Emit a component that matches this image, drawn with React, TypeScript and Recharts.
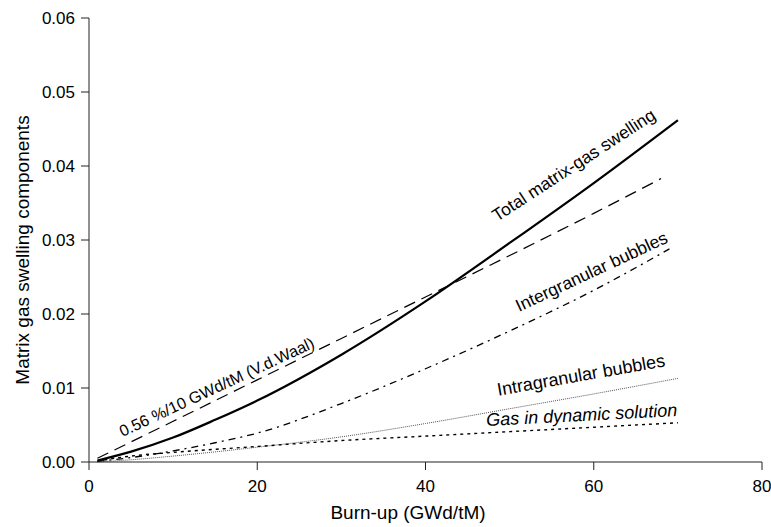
import React from "react";
import { LineChart, Line, XAxis, YAxis } from "recharts";

// burn-up (GWd/tM) and swelling fraction
const totalBurnup = [1, 5, 10, 15, 20, 30, 40, 50, 60, 70];
const totalSwelling = [0.0002, 0.0014, 0.0033, 0.0057, 0.0083, 0.0145, 0.0217, 0.0296, 0.0377, 0.0462];

const waalBurnup = [1, 10, 20, 30, 40, 50, 60, 68];
const waalSwelling = [0.0005, 0.0055, 0.0111, 0.0167, 0.0223, 0.0279, 0.0336, 0.0383];

const interBurnup = [1, 5, 10, 15, 20, 30, 40, 50, 60, 69];
const interSwelling = [0.0001, 0.0006, 0.0015, 0.0026, 0.0039, 0.0079, 0.0126, 0.0177, 0.0232, 0.0288];

const intraBurnup = [1, 5, 10, 20, 30, 40, 50, 60, 70];
const intraSwelling = [0, 0.0003, 0.0008, 0.002, 0.0034, 0.0052, 0.0072, 0.0092, 0.0113];

const solutionBurnup = [1, 3, 5, 10, 20, 30, 40, 50, 60, 70];
const solutionSwelling = [0.0001, 0.0005, 0.0008, 0.0013, 0.0021, 0.0029, 0.0035, 0.0041, 0.0047, 0.0053];

const xTicks = [0, 20, 40, 60, 80];
const yTicks = [0, 0.01, 0.02, 0.03, 0.04, 0.05, 0.06];

const toPoints = (xs: number[], ys: number[]) => xs.map((x, i) => ({ x, y: ys[i] }));

const FONT = "'Liberation Sans', Arial, sans-serif";

export default function App() {
  const tick = { fill: "#000", fontSize: 17, fontFamily: FONT };
  return (
    <div style={{ position: "absolute", left: 0, top: 0, width: 771, height: 527, background: "#fff" }}>
      <LineChart width={771} height={527} margin={{ top: 18, right: 9, bottom: 0, left: 0 }}>
        <XAxis
          dataKey="x"
          type="number"
          domain={[0, 80]}
          ticks={xTicks}
          height={65}
          tickSize={8}
          tickMargin={10}
          stroke="#222"
          tick={tick}
          allowDuplicatedCategory={false}
        />
        <YAxis
          dataKey="y"
          type="number"
          domain={[0, 0.06]}
          ticks={yTicks}
          width={89}
          tickSize={8}
          tickMargin={6}
          stroke="#222"
          tick={tick}
          tickFormatter={(v: number) => v.toFixed(2)}
        />
        <Line data={toPoints(waalBurnup, waalSwelling)} dataKey="y" type="monotone" stroke="#000" strokeWidth={1.2} strokeDasharray="12 7" dot={false} isAnimationActive={false} />
        <Line data={toPoints(interBurnup, interSwelling)} dataKey="y" type="monotone" stroke="#000" strokeWidth={1.3} strokeDasharray="7 5 2 5" dot={false} isAnimationActive={false} />
        <Line data={toPoints(intraBurnup, intraSwelling)} dataKey="y" type="monotone" stroke="#555" strokeWidth={1} strokeDasharray="1 1" dot={false} isAnimationActive={false} />
        <Line data={toPoints(solutionBurnup, solutionSwelling)} dataKey="y" type="monotone" stroke="#000" strokeWidth={1.4} strokeDasharray="3 4" dot={false} isAnimationActive={false} />
        <Line data={toPoints(totalBurnup, totalSwelling)} dataKey="y" type="monotone" stroke="#000" strokeWidth={2.2} dot={false} isAnimationActive={false} />
      </LineChart>
      <svg width={771} height={527} style={{ position: "absolute", left: 0, top: 0, pointerEvents: "none" }} fontFamily={FONT} fill="#000">
        <text x={29} y={250} fontSize={19} textAnchor="middle" transform="rotate(-90, 29, 250)">Matrix gas swelling components</text>
        <text x={408} y={519} fontSize={19} textAnchor="middle">Burn-up (GWd/tM)</text>
        <text x={219} y={392} fontSize={16} textAnchor="middle" transform="rotate(-25, 219, 392)">0.56 %/10 GWd/tM (V.d.Waal)</text>
        <text x={577} y={170} fontSize={17.5} textAnchor="middle" transform="rotate(-33, 577, 170)">Total matrix-gas swelling</text>
        <text x={594} y={277} fontSize={17.5} textAnchor="middle" transform="rotate(-25, 594, 277)">Intergranular bubbles</text>
        <text x={582} y={381} fontSize={18} textAnchor="middle" transform="rotate(-10, 582, 381)">Intragranular bubbles</text>
        <text x={582} y={421} fontSize={18} fontStyle="italic" textAnchor="middle" transform="rotate(-3, 582, 421)">Gas in dynamic solution</text>
      </svg>
    </div>
  );
}
